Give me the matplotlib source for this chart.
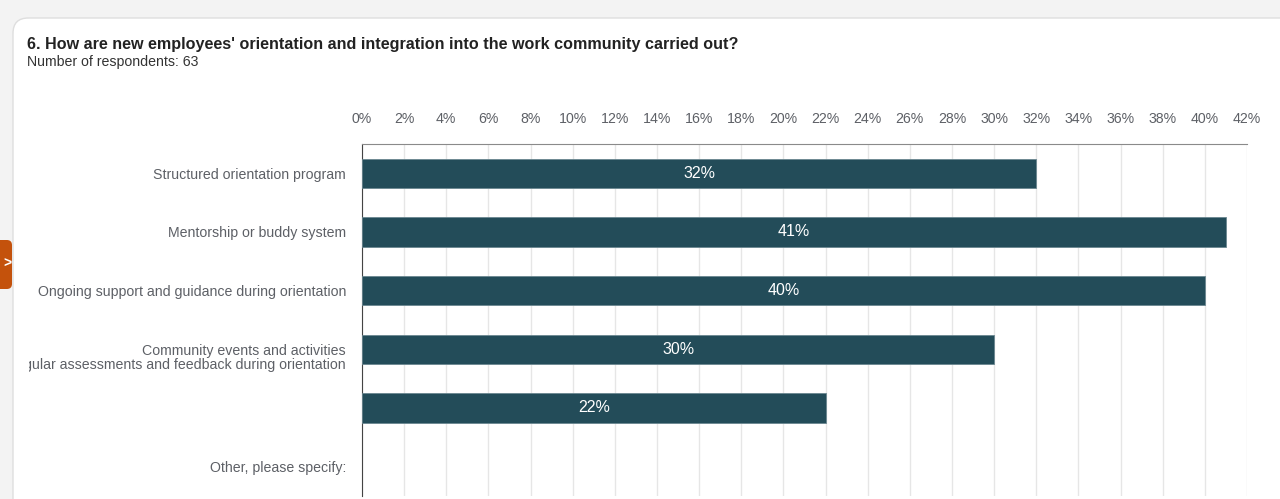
import matplotlib.pyplot as plt
from matplotlib.patches import FancyBboxPatch, Rectangle
from matplotlib.transforms import ScaledTranslation

plt.rcParams['font.family'] = ['Liberation Sans', 'DejaVu Sans']

# survey answers
categories = [
    'Structured orientation program',
    'Mentorship or buddy system',
    'Ongoing support and guidance during orientation',
    'Community events and activities',
    'Regular assessments and feedback during orientation',
    'Other, please specify:',
]
shares = [32, 41, 40, 30, 22, 0]
ticks = list(range(0, 43, 2))

title = "6. How are new employees' orientation and integration into the work community carried out?"
subtitle = 'Number of respondents: 63'

bar_color = '#234c59'
text_gray = '#5d6066'

W, H = 1280, 499
fig = plt.figure(figsize=(W / 100, H / 100), dpi=100, facecolor='#f3f3f3')

def fx(px):
    return px / W

def fy(py):
    return 1 - py / H

# white card with a rounded corner
card = FancyBboxPatch((fx(13), fy(540)), fx(1320), fy(18) - fy(540),
                      boxstyle='round,pad=0,rounding_size=0.012',
                      transform=fig.transFigure, facecolor='white',
                      edgecolor='#dedede', linewidth=1, zorder=-2,
                      mutation_aspect=W / H)
fig.patches.append(card)

# orange side tab
tab = FancyBboxPatch((fx(-10), fy(289)), fx(22), fy(240) - fy(289),
                     boxstyle='round,pad=0,rounding_size=0.004',
                     transform=fig.transFigure, facecolor='#c4520c',
                     edgecolor='none', zorder=-1, mutation_aspect=W / H)
fig.patches.append(tab)
fig.text(fx(7), fy(264), '>', color='white', fontsize=10, ha='center',
         va='center', fontweight='bold')

fig.text(fx(27), fy(44), title, fontsize=11.6, fontweight='bold',
         color='#222222', va='center', ha='left')
fig.text(fx(27), fy(62), subtitle, fontsize=10.2, color='#333333',
         va='center', ha='left')

ax = fig.add_axes([fx(362), fy(496), fx(1247) - fx(362), fy(144) - fy(496)])
ax.set_facecolor('none')
ax.set_zorder(2)

y = list(range(len(categories)))
ax.barh(y, shares, height=0.5, color=bar_color, edgecolor='#6a8790',
        linewidth=[0.6 if v else 0 for v in shares], zorder=3)
for yi, v in zip(y, shares):
    if v > 0:
        ax.text(v / 2, yi, f'{v}%', color='white', fontsize=11.5,
                ha='center', va='center', zorder=4)

ax.set_xlim(0, 42)
ax.set_ylim(len(categories) - 0.5, -0.5)
ax.set_xticks(ticks)
ax.set_xticklabels([f'{t}%' for t in ticks])
ax.xaxis.tick_top()
ax.tick_params(axis='x', length=0, pad=13, labelsize=10.2, labelcolor=text_gray)
ax.grid(axis='x', color='#e6e6e6', linewidth=1, zorder=0)

# the fifth label sits higher than its bar and is cut off on the left
ax.set_yticks(y)
labels = list(categories)
labels[4] = ''
ax.set_yticklabels(labels)
ax.tick_params(axis='y', length=0, pad=11.5, labelsize=10.2, labelcolor=text_gray)
shifted = ax.text(0, 4, categories[4], fontsize=10.2, color=text_gray,
                  ha='right', va='center', clip_on=True,
                  transform=ax.get_yaxis_transform() +
                  ScaledTranslation(-16 / 100, 43 / 100, fig.dpi_scale_trans))
clip = Rectangle((fx(29), 0), 1, 1, transform=fig.transFigure)
shifted.set_clip_path(clip)

for side in ['right', 'bottom']:
    ax.spines[side].set_visible(False)
ax.spines['top'].set_color('#8a8a8a')
ax.spines['left'].set_color('#444444')

fig.savefig('out.png', dpi=100, facecolor=fig.get_facecolor())
